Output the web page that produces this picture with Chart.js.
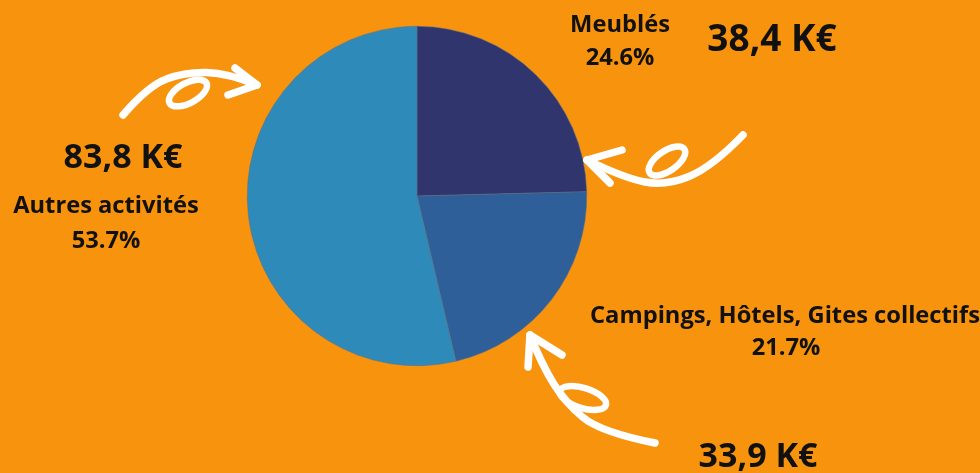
<!DOCTYPE html>
<html>
<head>
<meta charset="utf-8">
<script src="https://cdn.jsdelivr.net/npm/chart.js@4/dist/chart.umd.min.js"></script>
<style>
  html, body { margin: 0; padding: 0; background: #F8930D; }
  #wrap { width: 980px; height: 473px; position: relative; }
</style>
</head>
<body>
<div id="wrap"><canvas id="c" width="980" height="473"></canvas></div>
<script>
const categories = ["Meublés", "Campings, Hôtels, Gites collectifs", "Autres activités"];
const values = [38.4, 33.9, 83.8];
const sliceColors = ["#31356E", "#2E5F98", "#2D8AB9"];

const total = values.reduce((a, b) => a + b, 0);
const pctText = values.map(v => (v / total * 100).toFixed(1) + "%");
const amountText = values.map(v => v.toFixed(1).replace(".", ",") + " K€");

// label layout (positions only)
const labelLayout = [
  { name: [620, 32], pct: [620, 65], amount: [772, 51], amountSize: 37 },
  { name: [785, 323], pct: [786, 355], amount: [758, 467], amountSize: 34 },
  { name: [106, 213], pct: [106, 248], amount: [123, 168], amountSize: 34 }
];

const labelsPlugin = {
  id: 'labels',
  afterDraw(chart) {
    const ctx = chart.ctx;
    ctx.save();
    ctx.fillStyle = '#111111';
    ctx.textAlign = 'center';
    ctx.textBaseline = 'alphabetic';
    categories.forEach((cat, i) => {
      const L = labelLayout[i];
      ctx.font = '700 23.7px "Open Sans"';
      ctx.fillText(cat, L.name[0], L.name[1]);
      ctx.fillText(pctText[i], L.pct[0], L.pct[1]);
      ctx.font = '700 ' + L.amountSize + 'px "Open Sans"';
      ctx.fillText(amountText[i], L.amount[0], L.amount[1]);
    });
    ctx.restore();
  }
};

// decorative hand-drawn arrows
const arrows = [
  { path: [[123,115],[148,86],[185,72],[228,73],[257,85]], tip: [257,85], barbs: [[235,68],[228,95]], loop: [188,93,21,10,-0.5] },
  { path: [[743,135],[712,167],[666,186],[624,178],[587,160]], tip: [587,160], barbs: [[622,150],[610,183]], loop: [667,161,21,10,-0.6] },
  { path: [[655,443],[600,432],[565,402],[542,365],[530,335]], tip: [530,335], barbs: [[528,367],[562,355]], loop: [583,398,24,10,0.3] }
];

const arrowsPlugin = {
  id: 'arrows',
  afterDraw(chart) {
    const ctx = chart.ctx;
    ctx.save();
    ctx.strokeStyle = '#FFFFFF';
    ctx.lineCap = 'round';
    ctx.lineJoin = 'round';
    arrows.forEach(a => {
      const p = a.path;
      ctx.lineWidth = 7.5;
      ctx.beginPath();
      ctx.moveTo(p[0][0], p[0][1]);
      for (let i = 1; i < p.length - 1; i++) {
        const last = i === p.length - 2;
        const ex = last ? p[i + 1][0] : (p[i][0] + p[i + 1][0]) / 2;
        const ey = last ? p[i + 1][1] : (p[i][1] + p[i + 1][1]) / 2;
        ctx.quadraticCurveTo(p[i][0], p[i][1], ex, ey);
      }
      ctx.stroke();
      ctx.beginPath();
      ctx.moveTo(a.barbs[0][0], a.barbs[0][1]);
      ctx.lineTo(a.tip[0], a.tip[1]);
      ctx.lineTo(a.barbs[1][0], a.barbs[1][1]);
      ctx.stroke();
      ctx.lineWidth = 6.5;
      ctx.beginPath();
      ctx.ellipse(a.loop[0], a.loop[1], a.loop[2], a.loop[3], a.loop[4], 0, Math.PI * 2);
      ctx.stroke();
    });
    ctx.restore();
  }
};

new Chart(document.getElementById('c'), {
  type: 'pie',
  data: {
    labels: categories,
    datasets: [{
      data: values,
      backgroundColor: sliceColors,
      borderColor: '#5A6E8E',
      borderWidth: 0.5
    }]
  },
  options: {
    responsive: false,
    animation: false,
    layout: { padding: { left: 247, right: 393, top: 26, bottom: 107 } },
    plugins: { legend: { display: false }, tooltip: { enabled: false } }
  },
  plugins: [labelsPlugin, arrowsPlugin]
});
</script>
</body>
</html>
